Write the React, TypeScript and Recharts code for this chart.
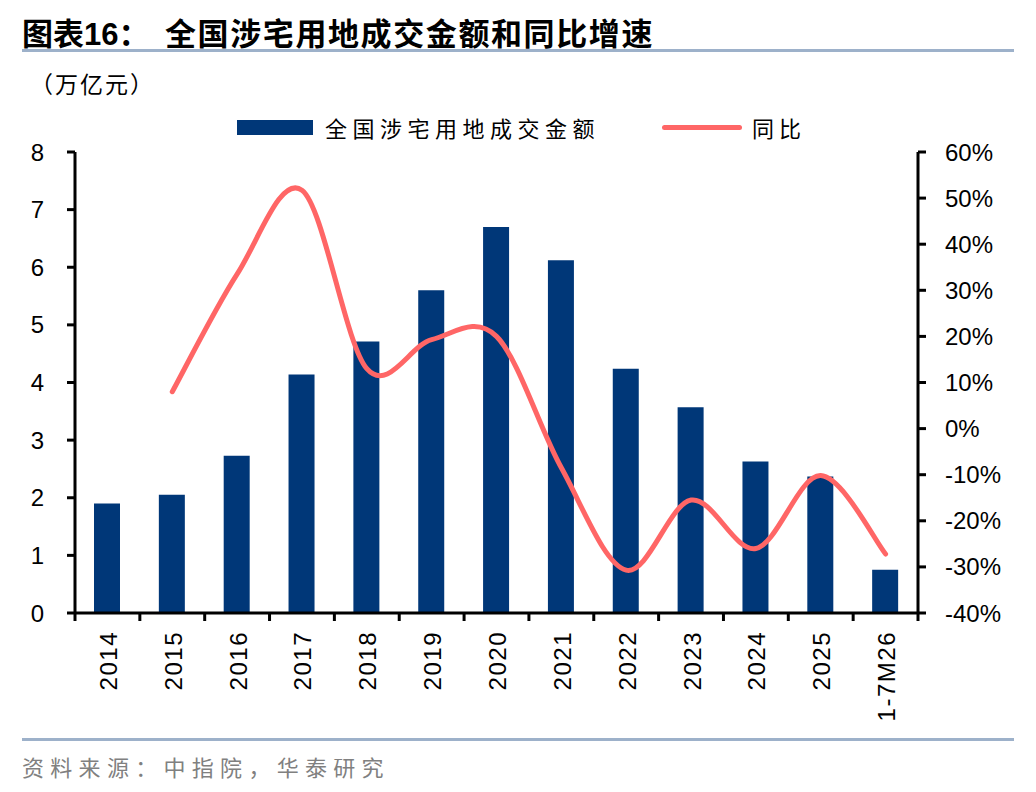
import React from 'react';
import { ComposedChart, Bar, Line, XAxis, YAxis } from 'recharts';

const categories = ['2014', '2015', '2016', '2017', '2018', '2019', '2020', '2021', '2022', '2023', '2024', '2025', '1-7M26'];
const amount = [1.9, 2.05, 2.73, 4.14, 4.71, 5.6, 6.7, 6.12, 4.24, 3.57, 2.63, 2.37, 0.75];
const yoy: (number | null)[] = [null, 8, 33.5, 51.7, 13, 19.3, 20, -8.5, -30.7, -15.5, -26, -10.2, -27.2];
const leftTicks = [0, 1, 2, 3, 4, 5, 6, 7, 8];
const rightTicks = [-40, -30, -20, -10, 0, 10, 20, 30, 40, 50, 60];

const data = categories.map((c, i) => ({ name: c, amount: amount[i], yoy: yoy[i] }));

const BAR_COLOR = '#003778';
const LINE_COLOR = '#FF6666';
const NUM_FONT = '"Liberation Sans", Arial, sans-serif';
const CJK_FONT = '"Noto Sans CJK SC", "Noto Sans", sans-serif';

// Excel-like smoothed line (Catmull-Rom through points)
const excelCurve: any = (context: any) => {
  let pts: [number, number][] = [];
  return {
    areaStart() {},
    areaEnd() {},
    lineStart() {
      pts = [];
    },
    lineEnd() {
      if (!pts.length) return;
      context.moveTo(pts[0][0], pts[0][1]);
      for (let i = 0; i < pts.length - 1; i++) {
        const p0 = pts[i - 1] || pts[i];
        const p1 = pts[i];
        const p2 = pts[i + 1];
        const p3 = pts[i + 2] || p2;
        context.bezierCurveTo(
          p1[0] + (p2[0] - p0[0]) / 6,
          p1[1] + (p2[1] - p0[1]) / 6,
          p2[0] - (p3[0] - p1[0]) / 6,
          p2[1] - (p3[1] - p1[1]) / 6,
          p2[0],
          p2[1]
        );
      }
    },
    point(x: number, y: number) {
      pts.push([+x, +y]);
    },
  };
};

const PLOT_LEFT = 75;
const PLOT_RIGHT = 918;
const BAND = (PLOT_RIGHT - PLOT_LEFT) / categories.length;

const XTick = (props: any) => {
  const { x, y, payload, index } = props;
  const axisY = y - 18;
  return (
    <g>
      <line x1={x - BAND / 2} x2={x - BAND / 2} y1={axisY} y2={axisY + 8} stroke="#000" strokeWidth={3} />
      {index === categories.length - 1 && (
        <line x1={x + BAND / 2} x2={x + BAND / 2} y1={axisY} y2={axisY + 8} stroke="#000" strokeWidth={3} />
      )}
      <text
        x={0}
        y={0}
        transform={`translate(${x + 1},${y}) rotate(-90)`}
        textAnchor="end"
        dominantBaseline="central"
        fontSize={24}
        letterSpacing={1.5}
        fontFamily={NUM_FONT}
        fill="#000"
      >
        {payload.value}
      </text>
    </g>
  );
};

export default function App() {
  return (
    <div style={{ position: 'absolute', left: 0, top: 0, width: 1036, height: 792, background: '#fff', overflow: 'hidden' }}>
      <div style={{ position: 'absolute', left: 22, top: 10, fontFamily: CJK_FONT, fontWeight: 700, fontSize: 31, lineHeight: '44px', color: '#000', whiteSpace: 'nowrap' }}>
        图表<span style={{ fontFamily: NUM_FONT }}>16</span>：
      </div>
      <div style={{ position: 'absolute', left: 165, top: 10, fontFamily: CJK_FONT, fontWeight: 700, fontSize: 31, lineHeight: '44px', letterSpacing: 1.6, color: '#000', whiteSpace: 'nowrap' }}>
        全国涉宅用地成交金额和同比增速
      </div>
      <div style={{ position: 'absolute', left: 22, top: 49, width: 992, height: 3, background: '#9DB1CA' }} />
      <div style={{ position: 'absolute', left: 30, top: 66, fontFamily: CJK_FONT, fontSize: 23, lineHeight: '34px', letterSpacing: 2, color: '#000', whiteSpace: 'nowrap' }}>
        （万亿元）
      </div>

      <div style={{ position: 'absolute', left: 237, top: 120, width: 76, height: 15, background: BAR_COLOR }} />
      <div style={{ position: 'absolute', left: 325, top: 110, fontFamily: CJK_FONT, fontSize: 22, lineHeight: '34px', letterSpacing: 5.5, color: '#000', whiteSpace: 'nowrap' }}>
        全国涉宅用地成交金额
      </div>
      <div style={{ position: 'absolute', left: 662, top: 125, width: 80, height: 5, borderRadius: 3, background: LINE_COLOR }} />
      <div style={{ position: 'absolute', left: 752, top: 110, fontFamily: CJK_FONT, fontSize: 22, lineHeight: '34px', letterSpacing: 5, color: '#000', whiteSpace: 'nowrap' }}>
        同比
      </div>

      <div style={{ position: 'absolute', left: 0, top: 0 }}>
        <ComposedChart width={1036} height={792} data={data} margin={{ top: 152, right: 0, bottom: 0, left: 0 }}>
          <XAxis
            dataKey="name"
            xAxisId="x"
            height={179}
            axisLine={{ stroke: '#000', strokeWidth: 3 }}
            tickLine={false}
            tickSize={8}
            tickMargin={10}
            interval={0}
            tick={<XTick />}
          />
          <YAxis
            yAxisId="left"
            orientation="left"
            width={75}
            domain={[0, 8]}
            ticks={leftTicks}
            interval={0}
            axisLine={{ stroke: '#000', strokeWidth: 3 }}
            tickLine={{ stroke: '#000', strokeWidth: 3 }}
            tickSize={8}
            tickMargin={23}
            tick={{ fontSize: 24, fill: '#000', fontFamily: NUM_FONT }}
          />
          <YAxis
            yAxisId="right"
            orientation="right"
            width={118}
            domain={[-40, 60]}
            ticks={rightTicks}
            interval={0}
            axisLine={{ stroke: '#000', strokeWidth: 3 }}
            tickLine={{ stroke: '#000', strokeWidth: 3 }}
            tickSize={8}
            tickMargin={19}
            tickFormatter={(v: number) => `${v}%`}
            tick={{ fontSize: 24, fill: '#000', fontFamily: NUM_FONT, textAnchor: 'start' }}
          />
          <Bar dataKey="amount" xAxisId="x" yAxisId="left" fill={BAR_COLOR} barSize={26} isAnimationActive={false} />
          <Line
            dataKey="yoy"
            xAxisId="x"
            yAxisId="right"
            type={excelCurve}
            stroke={LINE_COLOR}
            strokeWidth={5}
            strokeLinecap="round"
            dot={false}
            activeDot={false}
            isAnimationActive={false}
          />
        </ComposedChart>
      </div>

      <div style={{ position: 'absolute', left: 22, top: 738, width: 992, height: 3, background: '#9DB1CA' }} />
      <div style={{ position: 'absolute', left: 22, top: 749, fontFamily: CJK_FONT, fontSize: 22, lineHeight: '34px', letterSpacing: 6.3, color: '#808080', whiteSpace: 'nowrap' }}>
        资料来源：中指院，华泰研究
      </div>
    </div>
  );
}
